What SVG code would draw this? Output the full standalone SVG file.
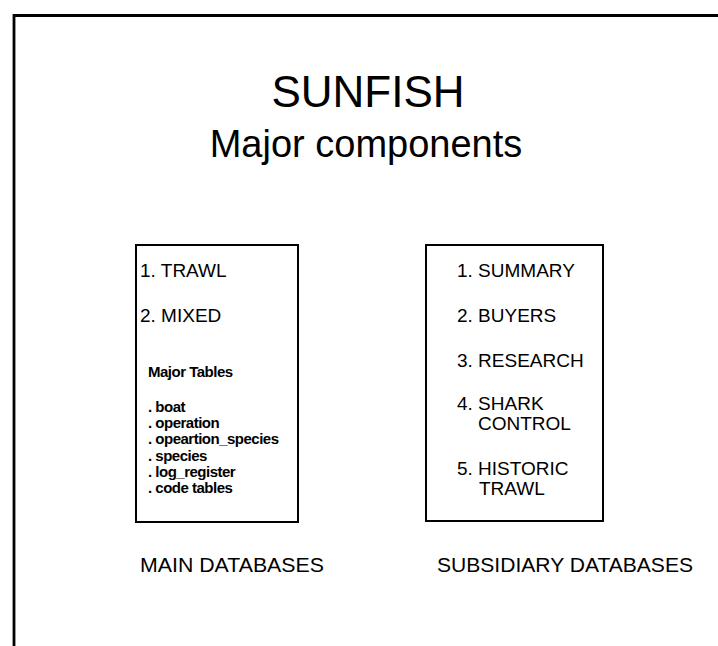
<svg xmlns="http://www.w3.org/2000/svg" width="718" height="646" viewBox="0 0 718 646">
<style>
text{font-family:"Liberation Sans",Arial,Helvetica,sans-serif;fill:#000}
.box{fill:none;stroke:#000;stroke-width:2}
.item{font-size:19px}
.small{font-size:15px;font-weight:bold;letter-spacing:-0.5px}
.lab{font-size:21px}
</style>
<rect width="718" height="646" fill="#fff"/>
<g id="frame">
<path d="M14,646 V15.5 H718" fill="none" stroke="#000" stroke-width="2.8"/>
</g>
<g id="title">
<text x="368" y="107" font-size="44" text-anchor="middle">SUNFISH</text>
<text x="366" y="157" font-size="38" text-anchor="middle">Major components</text>
</g>
<g id="main-databases">
<rect class="box" x="136" y="245" width="162" height="277"/>
<text class="item" x="140" y="277">1. TRAWL</text>
<text class="item" x="140" y="322">2. MIXED</text>
<text class="small" x="148" y="377">Major Tables</text>
<text class="small" x="148" y="412">. boat</text>
<text class="small" x="148" y="428">. operation</text>
<text class="small" x="148" y="444">. opeartion_species</text>
<text class="small" x="148" y="461">. species</text>
<text class="small" x="148" y="477">. log_register</text>
<text class="small" x="148" y="493">. code tables</text>
<text class="lab" x="140" y="572" textLength="184" lengthAdjust="spacingAndGlyphs">MAIN DATABASES</text>
</g>
<g id="subsidiary-databases">
<rect class="box" x="426" y="245" width="177" height="276"/>
<text class="item" x="457" y="277">1. SUMMARY</text>
<text class="item" x="457" y="322">2. BUYERS</text>
<text class="item" x="457" y="367">3. RESEARCH</text>
<text class="item" x="457" y="410">4. SHARK</text>
<text class="item" x="478" y="430">CONTROL</text>
<text class="item" x="457" y="475">5. HISTORIC</text>
<text class="item" x="479" y="495">TRAWL</text>
<text class="lab" x="437" y="572" textLength="256" lengthAdjust="spacingAndGlyphs">SUBSIDIARY DATABASES</text>
</g>
<g id="connectors"></g>
</svg>
